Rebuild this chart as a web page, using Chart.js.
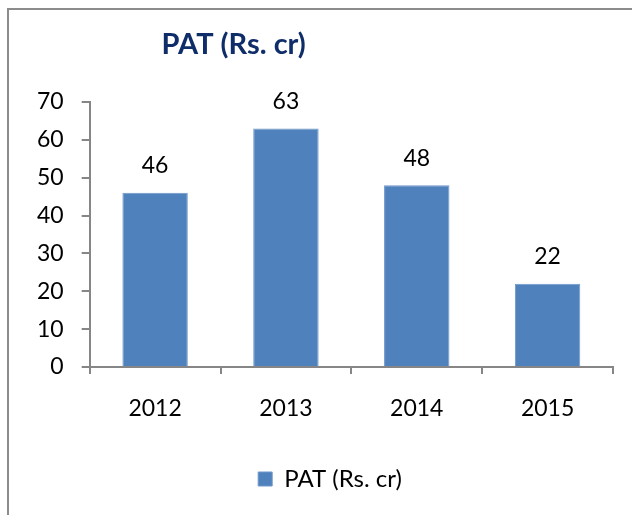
<!DOCTYPE html>
<html>
<head>
<meta charset="utf-8">
<script src="https://cdn.jsdelivr.net/npm/chart.js@4/dist/chart.umd.min.js"></script>
<style>
  html, body { margin: 0; padding: 0; background: #fff; }
  #wrap { position: relative; width: 632px; height: 515px; overflow: hidden; }
  #frame { position: absolute; left: 7px; top: 8px; width: 700px; height: 600px;
           border-left: 2px solid #8c8c8c; border-top: 2px solid #8c8c8c; }
  canvas { position: absolute; left: 0; top: 0; }
</style>
</head>
<body>
<div id="wrap">
  <div id="frame"></div>
  <canvas id="pat" width="632" height="515"></canvas>
</div>
<script>
var years = ['2012', '2013', '2014', '2015'];
var patValues = [46, 63, 48, 22];
var seriesName = 'PAT (Rs. cr)';
var chartTitle = 'PAT (Rs. cr)';

var fontFamily = 'Lato, "Open Sans", sans-serif';

// titulo desalinhado, como no original
var titlePlugin = {
    id: 'titleLeft',
    afterDraw: function (chart) {
        var c = chart.ctx;
        c.save();
        c.font = 'bold 29px ' + fontFamily;
        c.fillStyle = '#0f2d69';
        c.textAlign = 'center';
        c.textBaseline = 'middle';
        c.fillText(chartTitle, chart.chartArea.left + 144, 45);
        c.restore();
    }
};

// legenda um pouco mais para a direita
var legendShift = {
    id: 'legendShift',
    afterLayout: function (chart) {
        if (chart.legend) {
            chart.legend.left += 14;
            chart.legend.right += 14;
        }
    }
};

// valores em cima das barras
var valuePlugin = {
    id: 'barValues',
    afterDatasetsDraw: function (chart) {
        var c = chart.ctx;
        var meta = chart.getDatasetMeta(0);
        c.save();
        c.font = '23px ' + fontFamily;
        c.fillStyle = '#000';
        c.textAlign = 'center';
        c.textBaseline = 'middle';
        meta.data.forEach(function (bar, i) {
            c.fillText(patValues[i], bar.x, bar.y - 27);
        });
        c.restore();
    }
};

var ctx = document.getElementById('pat');

new Chart(ctx, {
    type: 'bar',
    data: {
        labels: years,
        datasets: [{
            label: seriesName,
            data: patValues,
            backgroundColor: '#4f81bd',
            borderColor: '#6f97c9',
            borderWidth: 1,
            categoryPercentage: 1,
            barPercentage: 0.5
        }]
    },
    options: {
        responsive: false,
        animation: false,
        layout: { padding: { left: 19, right: 19, top: 102, bottom: 14 } },
        plugins: {
            legend: {
                position: 'bottom',
                labels: {
                    boxWidth: 14,
                    boxHeight: 14,
                    color: '#000',
                    padding: 10,
                    font: { size: 24, family: fontFamily }
                }
            },
            tooltip: { enabled: false }
        },
        scales: {
            x: {
                afterFit: function (s) { s.height = 90; },
                border: { color: '#868686', width: 2 },
                grid: { drawOnChartArea: false, color: '#868686', lineWidth: 2, tickLength: 7 },
                ticks: { color: '#000', padding: 21, font: { size: 23, family: fontFamily } }
            },
            y: {
                min: 0,
                max: 70,
                border: { color: '#868686', width: 2 },
                grid: { drawOnChartArea: false, color: '#868686', lineWidth: 2, tickLength: 8 },
                ticks: { stepSize: 10, color: '#000', padding: 18, font: { size: 23, family: fontFamily } }
            }
        }
    },
    plugins: [titlePlugin, valuePlugin, legendShift]
});
</script>
</body>
</html>
